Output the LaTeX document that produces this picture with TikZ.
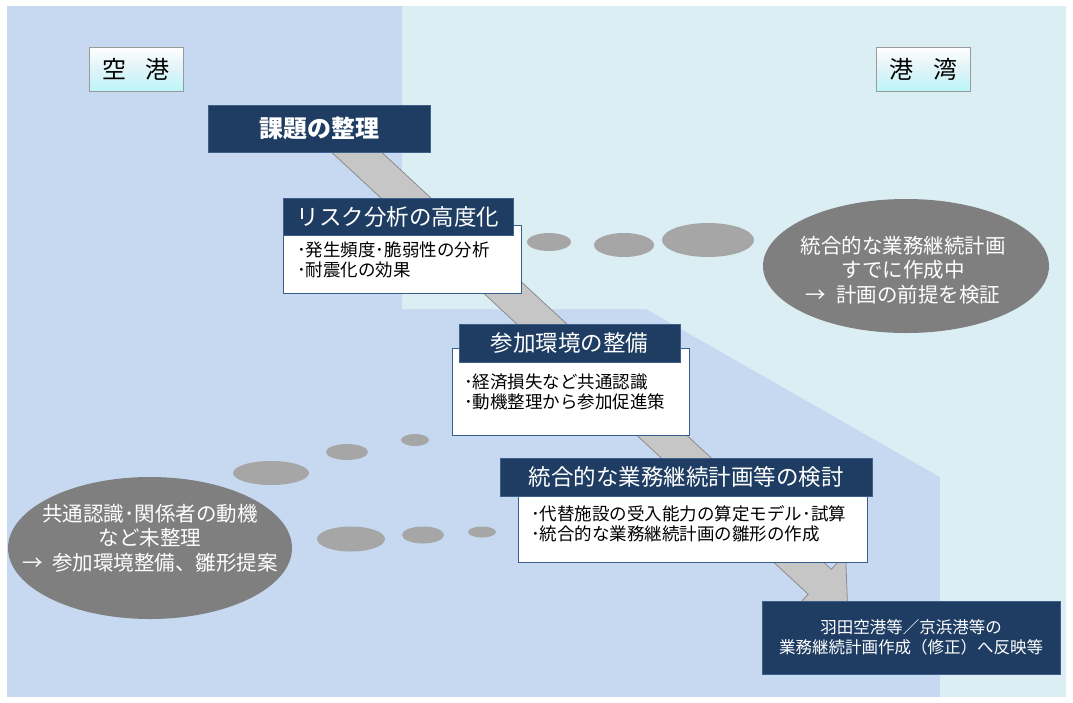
\documentclass[tikz,border=0pt]{standalone}
\usepackage{fontspec}
\newfontfamily\jp{Noto Sans CJK JP}
\usetikzlibrary{shapes.geometric,calc}
\definecolor{bgblue}{HTML}{C6D9F1}
\definecolor{bgcyan}{HTML}{DBEEF4}
\definecolor{navy}{HTML}{1F3D63}
\definecolor{navyedge}{HTML}{3E5F8A}
\definecolor{boxedge}{HTML}{385D8A}
\definecolor{dotgray}{HTML}{A6A6A6}
\definecolor{ellgray}{HTML}{7F7F7F}
\definecolor{arrgray}{HTML}{C6C6C6}
\definecolor{arredge}{HTML}{8C8C8C}
\definecolor{labcyan}{HTML}{E0F3F8}
\pgfdeclarelayer{bg}
\pgfsetlayers{bg,main}
\begin{document}
\begin{tikzpicture}[x=1pt,y=-1pt,
  hdr/.style={rectangle, fill=navy, draw=navyedge, line width=0.8pt, text=white, inner sep=0pt, font=\jp\fontsize{22.5}{26}\selectfont},
  wbox/.style={rectangle, fill=white, draw=boxedge, line width=0.9pt, inner sep=0pt},
  body/.style={anchor=west, align=left, inner sep=0pt, font=\jp\fontsize{17.5}{20}\selectfont},
  dot/.style={ellipse, fill=dotgray, inner sep=0pt},
  bigell/.style={ellipse, fill=ellgray, inner sep=0pt},
  ellt/.style={text=white, align=center, inner sep=0pt, font=\jp\fontsize{20.5}{24.5}\selectfont},
  sidelab/.style={rectangle, top color=white, bottom color=labcyan!80!cyan!90!white, middle color=labcyan, draw=gray!80, line width=0.8pt, inner sep=0pt, minimum width=94pt, minimum height=44pt, font=\jp\fontsize{24}{28}\selectfont}
]
\useasboundingbox (0,0) rectangle (1073,702);

% side labels
\node[sidelab] (kuko) at (136,69) {空\hspace{20pt}港};
\node[sidelab] (kowan) at (923,69) {港\hspace{20pt}湾};

% steps
\node[hdr, minimum width=222pt, minimum height=47pt, font=\jp\bfseries\fontsize{24}{28}\selectfont] (kadai) at (319,128.5) {課題の整理};

\node[wbox, minimum width=238pt, minimum height=68pt] (riskbox) at (402,259) {};
\node[hdr, minimum width=230pt, minimum height=37pt] (risk) at (398,216.5) {リスク分析の高度化};
\node[body] (risktxt) at (297,260) {･発生頻度･脆弱性の分析\\･耐震化の効果};

\node[wbox, minimum width=237pt, minimum height=87pt] (sankabox) at (570.5,391.5) {};
\node[hdr, minimum width=221pt, minimum height=38pt] (sanka) at (569.5,343) {参加環境の整備};
\node[body] (sankatxt) at (464,391.5) {･経済損失など共通認識\\･動機整理から参加促進策};

\node[wbox, minimum width=349pt, minimum height=67pt] (togobox) at (692.5,528.5) {};
\node[hdr, minimum width=372pt, minimum height=38pt] (togo) at (686,477) {統合的な業務継続計画等の検討};
\node[body] (togotxt) at (531,523.5) {･代替施設の受入能力の算定モデル･試算\\･統合的な業務継続計画の雛形の作成};

\node[hdr, minimum width=298pt, minimum height=73pt, align=center, font=\jp\fontsize{16.5}{20.5}\selectfont] (final) at (911,637.5) {羽田空港等／京浜港等の\\業務継続計画作成（修正）へ反映等};

% port side ellipses
\node[dot, minimum width=44pt, minimum height=18pt] (d1) at (549,242) {};
\node[dot, minimum width=60pt, minimum height=24pt] (d2) at (624,245) {};
\node[dot, minimum width=92pt, minimum height=34pt] (d3) at (708,240) {};
\node[bigell, minimum width=286pt, minimum height=134pt] (portell) at (906,266) {};
\node[ellt] (porttxt) at (903,270) {統合的な業務継続計画\\すでに作成中\\→\hspace{10pt}計画の前提を検証};

% airport side ellipses
\node[dot, minimum width=28pt, minimum height=12pt] (e1) at (415,440) {};
\node[dot, minimum width=42pt, minimum height=16pt] (e2) at (347,452) {};
\node[dot, minimum width=76pt, minimum height=24pt] (e3) at (271,473) {};
\node[dot, minimum width=28pt, minimum height=11pt] (f1) at (482,532) {};
\node[dot, minimum width=42pt, minimum height=17pt] (f2) at (423,535) {};
\node[dot, minimum width=68pt, minimum height=25pt] (f3) at (351,539) {};
\node[bigell, minimum width=284pt, minimum height=142pt] (airell) at (150,548) {};
\node[ellt] (airtxt) at (150,538) {共通認識･関係者の動機\\など未整理\\→\hspace{10pt}参加環境整備、雛形提案};

% background and arrow
\coordinate (arrS) at ($(kadai.center)+(12,0)$);
\coordinate (arrT) at ($(final.north west)+(86,7)$);
\begin{pgfonlayer}{bg}
\fill[white] (0,0) rectangle (1073,702);
\fill[bgblue] (7,6) rectangle (1066,697);
\fill[bgcyan] (402,6) -- (1066,6) -- (1066,697) -- (940,697) -- (940,477) -- (646,309) -- (402,309) -- cycle;
\coordinate (arrB) at ($(arrT)!38pt!(arrS)$);
\fill[arrgray, draw=arredge, line width=0.8pt, line join=miter]
  ($(arrS)!17pt!90:(arrT)$) -- ($(arrB)!17pt!90:(arrT)$) -- ($(arrB)!38pt!90:(arrT)$)
  -- (arrT) -- ($(arrB)!38pt!-90:(arrT)$) -- ($(arrB)!17pt!-90:(arrT)$)
  -- ($(arrS)!17pt!-90:(arrT)$) -- cycle;
\end{pgfonlayer}
\end{tikzpicture}
\end{document}
